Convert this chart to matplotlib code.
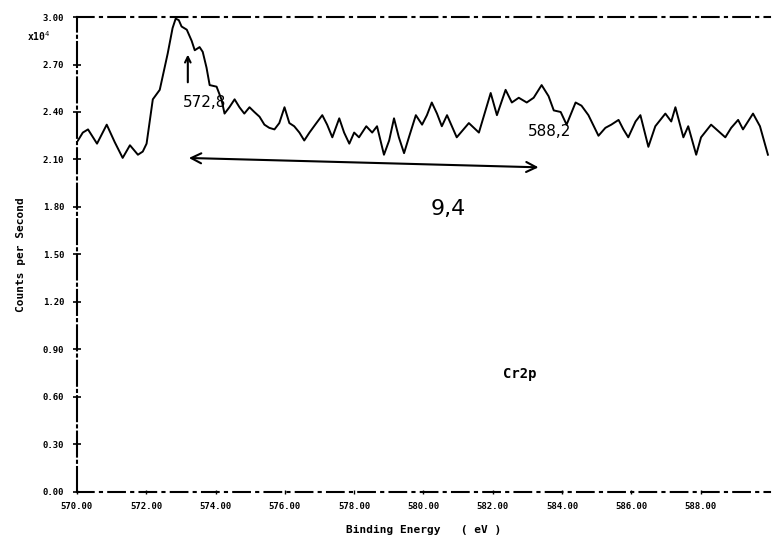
import numpy as np
import matplotlib.pyplot as plt

# Cr2p spectrum (counts in units of 10^4)
energy = [570.03, 570.17, 570.32, 570.58, 570.86, 571.09, 571.32, 571.53, 571.76, 571.90,
          572.01, 572.19, 572.39, 572.62, 572.76, 572.85, 572.94, 573.02, 573.17, 573.31,
          573.40, 573.54, 573.63, 573.74, 573.83, 574.03, 574.17, 574.26, 574.40, 574.55,
          574.69, 574.83, 574.98, 575.12, 575.27, 575.41, 575.55, 575.70, 575.84, 575.99,
          576.13, 576.27, 576.42, 576.56, 576.71, 576.91, 577.08, 577.22, 577.37, 577.57,
          577.71, 577.86, 578.00, 578.14, 578.35, 578.52, 578.66, 578.86, 579.01, 579.15,
          579.29, 579.44, 579.58, 579.78, 579.96, 580.10, 580.24, 580.39, 580.53, 580.68,
          580.82, 580.96, 581.31, 581.60, 581.94, 582.12, 582.37, 582.55, 582.75, 582.98,
          583.18, 583.41, 583.61, 583.76, 583.96, 584.13, 584.39, 584.56, 584.76, 585.05,
          585.25, 585.42, 585.63, 585.77, 585.91, 586.12, 586.26, 586.49, 586.69, 586.98,
          587.15, 587.27, 587.50, 587.64, 587.87, 588.01, 588.30, 588.71, 588.88, 589.08,
          589.22, 589.51, 589.71, 589.94]
counts = [2.22, 2.27, 2.29, 2.20, 2.32, 2.21, 2.11, 2.19, 2.13, 2.15,
          2.20, 2.48, 2.54, 2.77, 2.93, 2.99, 2.98, 2.94, 2.92, 2.85,
          2.79, 2.81, 2.78, 2.68, 2.57, 2.56, 2.48, 2.39, 2.43, 2.48,
          2.43, 2.39, 2.43, 2.40, 2.37, 2.32, 2.30, 2.29, 2.33, 2.43,
          2.33, 2.31, 2.27, 2.22, 2.27, 2.33, 2.38, 2.32, 2.24, 2.36,
          2.27, 2.20, 2.27, 2.24, 2.31, 2.27, 2.31, 2.13, 2.22, 2.36,
          2.24, 2.14, 2.24, 2.38, 2.32, 2.38, 2.46, 2.39, 2.31, 2.38,
          2.31, 2.24, 2.33, 2.27, 2.52, 2.38, 2.54, 2.46, 2.49, 2.46,
          2.49, 2.57, 2.50, 2.41, 2.40, 2.32, 2.46, 2.44, 2.38, 2.25,
          2.30, 2.32, 2.35, 2.29, 2.24, 2.34, 2.38, 2.18, 2.31, 2.39,
          2.34, 2.43, 2.24, 2.31, 2.13, 2.24, 2.32, 2.24, 2.30, 2.35,
          2.29, 2.39, 2.31, 2.13]

x_ticks = [570, 572, 574, 576, 578, 580, 582, 584, 586, 588]
y_ticks = [0.0, 0.3, 0.6, 0.9, 1.2, 1.5, 1.8, 2.1, 2.4, 2.7, 3.0]

fig = plt.figure(figsize=(7.77, 5.49), dpi=100)
ax = fig.add_axes([0.099, 0.104, 0.892, 0.865])

ax.plot(energy, counts, color='black', lw=1.4)

ax.set_xlim(570, 590)
ax.set_ylim(0, 3.0)
ax.set_xticks(x_ticks)
ax.set_xticklabels(['%.2f' % t for t in x_ticks])
ax.set_yticks(y_ticks)
ax.set_yticklabels(['%.2f' % t for t in y_ticks])
ax.tick_params(axis='y', direction='inout', length=6, width=1.2, labelsize=6.5, pad=6)
ax.tick_params(axis='x', direction='inout', length=3, width=1.0, labelsize=6.5, pad=6)
for lab in ax.get_xticklabels() + ax.get_yticklabels():
    lab.set_fontweight('bold')
    lab.set_family('DejaVu Sans Mono')

# old plotter frame: dash-dot top and bottom, no right side
ax.spines['right'].set_visible(False)
ax.spines['top'].set_linestyle((0, (8, 3, 1, 3)))
ax.spines['bottom'].set_linestyle((0, (8, 3, 1, 3)))
ax.spines['left'].set_linestyle((0, (12, 2, 1, 2)))
for s in ['top', 'bottom', 'left']:
    ax.spines[s].set_linewidth(1.5)

ax.set_xlabel('Binding Energy   ( eV )', fontsize=8, fontweight='bold',
              family='DejaVu Sans Mono', labelpad=10)
ax.set_ylabel('Counts per Second', fontsize=8, fontweight='bold',
              family='DejaVu Sans Mono', labelpad=12)
fig.text(0.035, 0.925, r'x10$^4$', fontsize=7, fontweight='bold', family='DejaVu Sans Mono')

# handwritten notes
ax.annotate('', xy=(573.2, 2.78), xytext=(573.2, 2.57),
            arrowprops=dict(arrowstyle='->', color='black', lw=1.5))
ax.text(573.05, 2.43, '572,8', fontsize=11, color='black')
ax.text(583.0, 2.25, '588,2', fontsize=11, color='black')
ax.annotate('', xy=(573.15, 2.11), xytext=(583.4, 2.05),
            arrowprops=dict(arrowstyle='<->', color='black', lw=1.5, mutation_scale=18))
ax.text(580.2, 1.75, '9,4', fontsize=16, color='black')
ax.text(582.3, 0.72, 'Cr2p', fontsize=10, fontweight='bold', family='DejaVu Sans Mono')

fig.savefig('out.png', dpi=100)
